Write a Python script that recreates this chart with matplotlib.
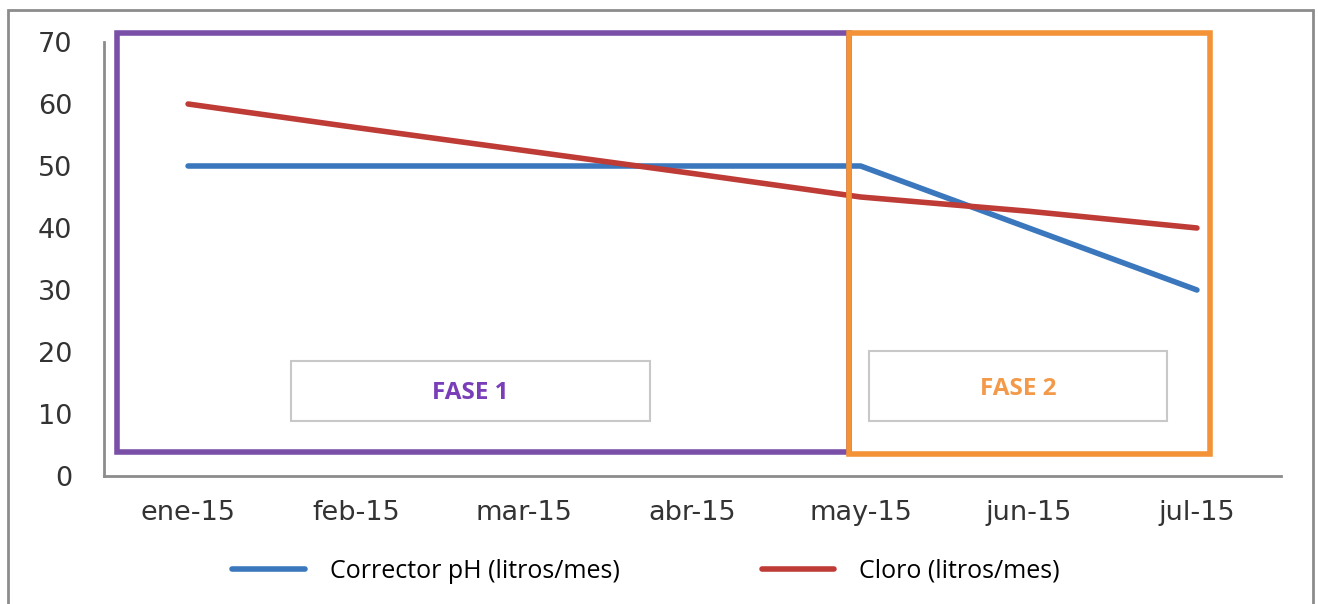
import matplotlib.pyplot as plt
from matplotlib.patches import Rectangle

meses = ["ene-15", "feb-15", "mar-15", "abr-15", "may-15", "jun-15", "jul-15"]
corrector_ph = [50, 50, 50, 50, 50, 40, 30]
cloro = [60, 56.2, 52.5, 48.8, 45, 42.7, 40]
y_ticks = [0, 10, 20, 30, 40, 50, 60, 70]

fig = plt.figure(figsize=(13.18, 6.04), dpi=100)
ax = fig.add_axes([104 / 1318, 1 - 476 / 604, (1281 - 104) / 1318, (476 - 42) / 604])

# outer chart border
fig.patches.append(Rectangle((8 / 1318, -0.1), (1313 - 8) / 1318, 1.1 - 10 / 604,
                             transform=fig.transFigure, fill=False,
                             edgecolor="#8c8c8c", linewidth=2))

x = list(range(len(meses)))
ax.plot(x, corrector_ph, color="#3a77bd", linewidth=4, solid_capstyle="round",
        label="Corrector pH (litros/mes)", zorder=3)
ax.plot(x, cloro, color="#be3b36", linewidth=4, solid_capstyle="round",
        label="Cloro (litros/mes)", zorder=3)

ax.set_xlim(-0.5, 6.5)
ax.set_ylim(0, 70)
ax.set_yticks(y_ticks)
ax.set_xticks(x)
ax.set_xticklabels(meses)
ax.tick_params(length=0, labelsize=19.5, colors="#333333")
ax.tick_params(axis="y", pad=23)
ax.tick_params(axis="x", pad=17)
for s in ["top", "right"]:
    ax.spines[s].set_visible(False)
for s in ["left", "bottom"]:
    ax.spines[s].set_color("#8c8c8c")
    ax.spines[s].set_linewidth(2)

# phase boxes
ax.add_patch(Rectangle((-0.42, 3.9), 4.35, 67.6, fill=False, edgecolor="#7a4fa8",
                       linewidth=4, clip_on=False, zorder=2))
ax.add_patch(Rectangle((3.93, 3.6), 2.15, 67.9, fill=False, edgecolor="#f39237",
                       linewidth=4, clip_on=False, zorder=4))

ax.add_patch(Rectangle((0.61, 8.9), 2.14, 9.6, fill=False, edgecolor="#c8c8c8",
                       linewidth=1.5, zorder=2))
ax.text(1.68, 13.4, "FASE 1", color="#7a3fb8", fontsize=17.5, fontweight="bold",
        family="Open Sans", ha="center", va="center")
ax.add_patch(Rectangle((4.05, 8.8), 1.77, 11.3, fill=False, edgecolor="#c8c8c8",
                       linewidth=1.5, zorder=2))
ax.text(4.94, 14.1, "FASE 2", color="#f39a4a", fontsize=17.5, fontweight="bold",
        family="Open Sans", ha="center", va="center")

fig.legend(*ax.get_legend_handles_labels(), loc="center left",
           bbox_to_anchor=(232 / 1318, 1 - 571 / 604), ncol=2, frameon=False,
           handlelength=2.9, columnspacing=5.7, handletextpad=1.0,
           borderpad=0, borderaxespad=0,
           prop={"family": "Open Sans", "size": 18})

fig.savefig("out.png", dpi=100)
